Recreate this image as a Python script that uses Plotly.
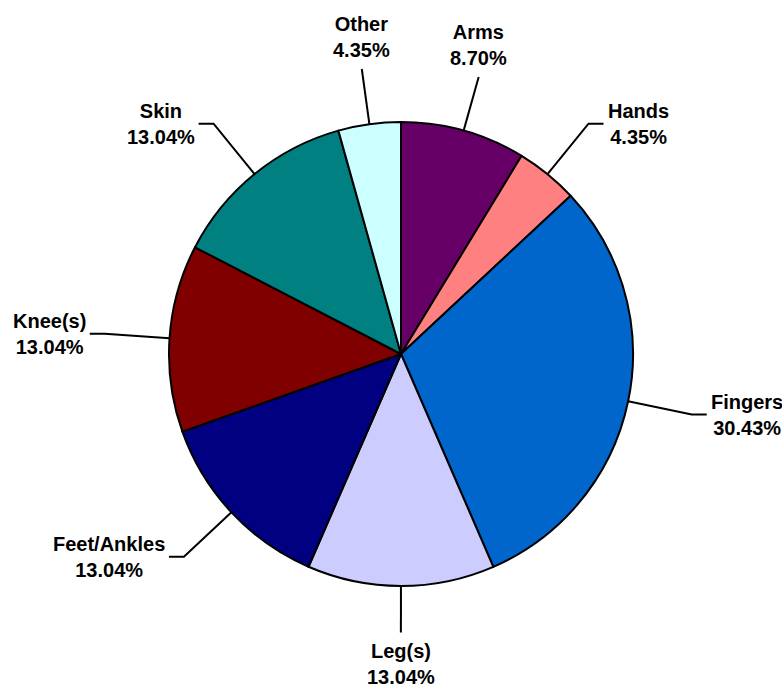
import plotly.graph_objects as go
import numpy as np

labels = ["Arms", "Hands", "Fingers", "Leg(s)", "Feet/Ankles", "Knee(s)", "Skin", "Other"]
values = [8.70, 4.35, 30.43, 13.04, 13.04, 13.04, 13.04, 4.35]
colors = ["#660066", "#FF8080", "#0066CC", "#CCCCFF", "#000080", "#800000", "#008080", "#CCFFFF"]

W, H = 782, 688
cx, cy, R = 401, 354, 232
FONT = "Liberation Sans, Arial, sans-serif"

fig = go.Figure()
fig.add_trace(go.Pie(
    labels=labels, values=values, sort=False, direction="clockwise", rotation=0,
    marker=dict(colors=colors, line=dict(color="black", width=2)),
    textinfo="none", hoverinfo="label+percent", showlegend=False,
    domain=dict(x=[(cx - R) / W, (cx + R) / W], y=[1 - (cy + R) / H, 1 - (cy - R) / H]),
))

total = sum(values)
cum = np.cumsum([0] + values[:-1])
lx, ly = [], []
annotations = []
for lab, v, c0 in zip(labels, values, cum):
    th = 2 * np.pi * (c0 + v / 2) / total
    s, c = np.sin(th), np.cos(th)
    x0, y0 = cx + R * s, cy - R * c
    text = f"<b>{lab}</b><br><b>{v:.2f}%</b>"
    if abs(s) > 0.5:
        kx, ky = cx + 1.28 * R * s, cy - 1.28 * R * c
        ex = kx + 15 * np.sign(s)
        lx += [x0, kx, ex, None]
        ly += [y0, ky, ky, None]
        annotations.append(dict(x=ex + 2 * np.sign(s), y=ky, xref="x", yref="y", text=text,
                                showarrow=False, xanchor="left" if s > 0 else "right",
                                yanchor="middle", align="center"))
    else:
        k = 1.24 if c > 0 else 1.2
        ex, ey = cx + k * R * s, cy - k * R * c
        lx += [x0, ex, None]
        ly += [y0, ey, None]
        annotations.append(dict(x=ex, y=ey - 6 * np.sign(c), xref="x", yref="y", text=text,
                                showarrow=False, xanchor="center",
                                yanchor="bottom" if c > 0 else "top", align="center"))

fig.add_trace(go.Scatter(x=lx, y=ly, mode="lines", line=dict(color="black", width=2),
                         hoverinfo="skip", showlegend=False))

fig.update_layout(
    width=W, height=H, margin=dict(l=0, r=0, t=0, b=0),
    paper_bgcolor="white", plot_bgcolor="white",
    xaxis=dict(range=[0, W], visible=False, fixedrange=True),
    yaxis=dict(range=[H, 0], visible=False, fixedrange=True),
    font=dict(family=FONT, size=20, color="black"),
    annotations=annotations,
)
fig.write_html("out.html", config={"displayModeBar": False},
               post_script="document.body.style.margin='0';document.body.style.overflow='hidden';")
